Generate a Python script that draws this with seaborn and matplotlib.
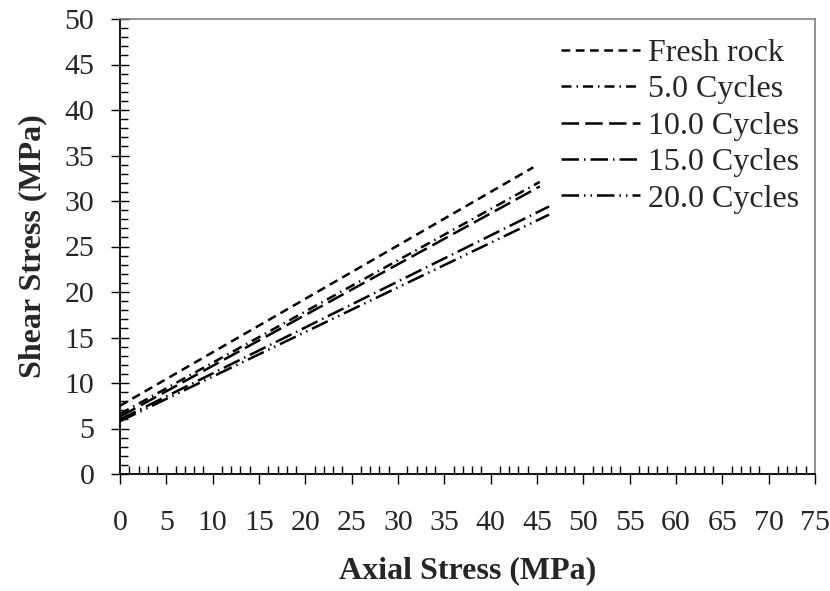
import matplotlib
matplotlib.use("Agg")
import matplotlib.pyplot as plt
from matplotlib.ticker import MultipleLocator
import seaborn as sns
import pandas as pd

series = ["Fresh rock", "5.0 Cycles", "10.0 Cycles", "15.0 Cycles", "20.0 Cycles"]
x_fresh = [0, 44.6]
y_fresh = [7.5, 33.7]
x_c5 = [0, 45.3]
y_c5 = [6.6, 32.1]
x_c10 = [0, 45.3]
y_c10 = [6.3, 31.6]
x_c15 = [0, 46.3]
y_c15 = [6.0, 29.4]
x_c20 = [0, 46.3]
y_c20 = [5.8, 28.5]
x_ticks = [0, 5, 10, 15, 20, 25, 30, 35, 40, 45, 50, 55, 60, 65, 70, 75]
y_ticks = [0, 5, 10, 15, 20, 25, 30, 35, 40, 45, 50]

xs = [x_fresh, x_c5, x_c10, x_c15, x_c20]
ys = [y_fresh, y_c5, y_c10, y_c15, y_c20]
rows = []
for name, xv, yv in zip(series, xs, ys):
    for a, b in zip(xv, yv):
        rows.append({"series": name, "x": a, "y": b})
df = pd.DataFrame(rows)

sns.set_theme(style="ticks")
plt.rcParams["font.family"] = ["Liberation Serif", "DejaVu Serif"]

fig = plt.figure(figsize=(8.3, 5.91), dpi=100)
ax = fig.add_axes([120 / 830, 1 - 474 / 591, 695 / 830, 455 / 591])

dashes = {
    "Fresh rock": (3.5, 2.2),
    "5.0 Cycles": (4.0, 2.0, 0.6, 2.0),
    "10.0 Cycles": (7.0, 2.5),
    "15.0 Cycles": (7.0, 2.0, 0.6, 2.0),
    "20.0 Cycles": (7.0, 2.0, 0.6, 2.0, 0.6, 2.0),
}
sns.lineplot(data=df, x="x", y="y", style="series", style_order=series,
             dashes=dashes, color="black", linewidth=1.8, estimator=None,
             sort=False, legend=False, ax=ax)

ax.set_xlim(0, 75)
ax.set_ylim(0, 50)
ax.set_xticks(x_ticks)
ax.set_yticks(y_ticks)
ax.set_xticklabels([str(v) for v in x_ticks])
ax.set_yticklabels([str(v) for v in y_ticks])
ax.xaxis.set_minor_locator(MultipleLocator(1))
ax.yaxis.set_minor_locator(MultipleLocator(1))
ax.tick_params(axis="x", which="major", direction="out", length=7, width=1,
               color="black", labelsize=21.5, pad=19)
ax.tick_params(axis="x", which="minor", direction="in", length=6, width=1, color="black")
ax.tick_params(axis="y", which="major", direction="inout", length=13, width=1,
               color="black", labelsize=21.5, pad=12)
ax.tick_params(axis="y", which="minor", direction="in", length=6, width=1, color="black")

for s in ["left", "bottom"]:
    ax.spines[s].set_color("black")
    ax.spines[s].set_linewidth(1.3)
for s in ["top", "right"]:
    ax.spines[s].set_color("#808080")
    ax.spines[s].set_linewidth(1.2)

ax.set_xlabel("Axial Stress (MPa)", fontsize=23, fontweight="bold")
ax.set_ylabel("Shear Stress (MPa)", fontsize=23, fontweight="bold")
ax.xaxis.set_label_coords(0.5, -0.18)
ax.yaxis.set_label_coords(-0.105, 0.5)

handles = ax.get_lines()[:len(series)]
ax.legend(handles, series, loc="upper right", frameon=False, fontsize=23,
          handlelength=2.45, handletextpad=0.25, labelspacing=0.22,
          bbox_to_anchor=(0.995, 0.985), borderaxespad=0.0)

fig.savefig("out.png", dpi=100)
